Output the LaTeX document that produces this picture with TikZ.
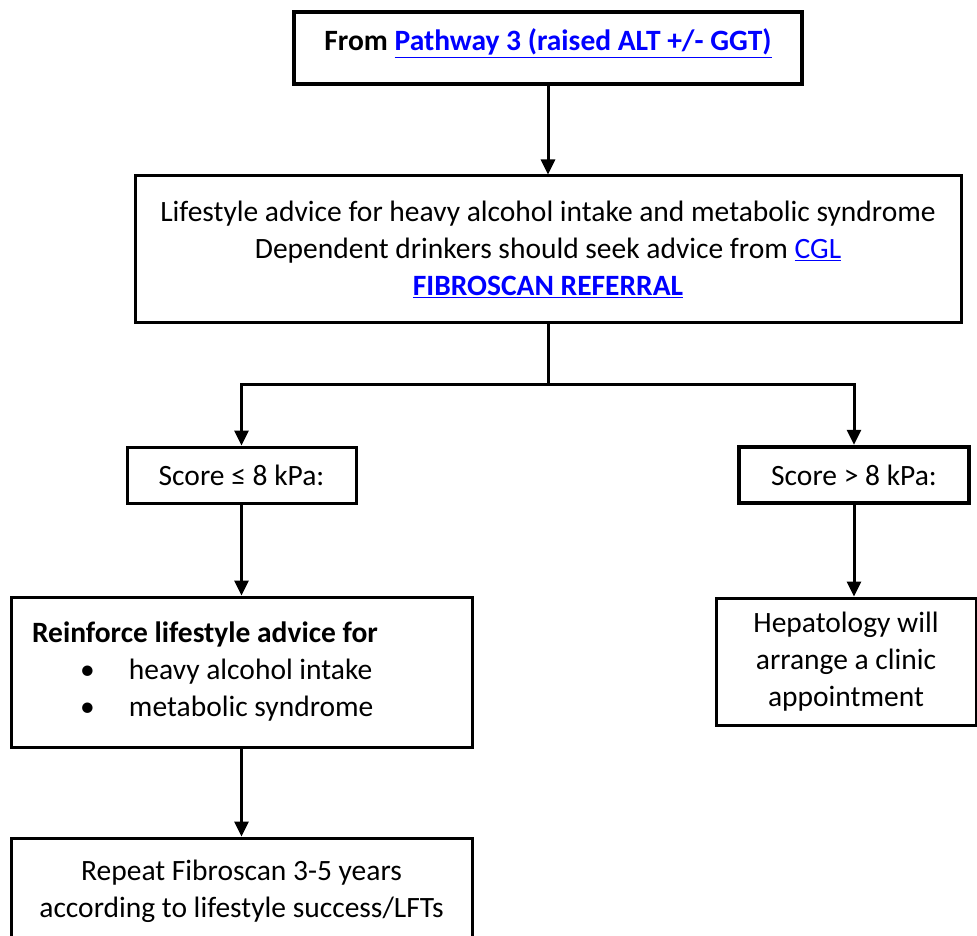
\documentclass[tikz,border=0pt]{standalone}
\usepackage{fontspec}
\setmainfont{Carlito}
\usetikzlibrary{shapes,arrows.meta,positioning}
\definecolor{linkblue}{RGB}{0,0,255}
\tikzstyle{block} = [rectangle, draw, line width=3pt, text centered, inner sep=0pt,
    font=\fontsize{29.5}{37}\selectfont]
\tikzstyle{line} = [draw, line width=3pt, -{Triangle[length=15pt,width=14pt]}]
\newcommand{\weblink}[1]{\textcolor{linkblue}{\underline{#1}}}

\begin{document}
\begin{tikzpicture}[x=1pt, y=1pt, node distance=201pt]
        \useasboundingbox (0,0) rectangle (977,-936);
        % Place nodes
        \node [block, line width=3.5pt, minimum width=508pt, minimum height=72pt, text depth=16pt,
            font=\bfseries\fontsize{29.5}{37}\selectfont] (origin) at (548,-48)
            {From \weblink{Pathway 3 (raised ALT +/- GGT)}};
        \node [block, below of=origin, minimum width=826pt, minimum height=146pt, align=center] (advice)
            {Lifestyle advice for heavy alcohol intake and metabolic syndrome\\
             Dependent drinkers should seek advice from \weblink{CGL}\\
             \weblink{\textbf{FIBROSCAN REFERRAL}}};
        \coordinate [below of=advice, node distance=135pt] (split);
        \node [block, minimum width=229pt, minimum height=56pt] (lowscore) at (241.5,-475) {Score ≤ 8 kPa:};
        \node [block, line width=4.5pt, minimum width=230pt, minimum height=56pt] (highscore) at (854,-475) {Score > 8 kPa:};
        \node [block, below of=lowscore, node distance=197pt, text width=419pt, inner xsep=21pt,
            minimum height=150pt, align=flush left] (reinforce)
            {\textbf{Reinforce lifestyle advice for}\\
             \hspace*{48pt}\makebox[49pt][l]{\textbullet}heavy alcohol intake\\
             \hspace*{48pt}\makebox[49pt][l]{\textbullet}metabolic syndrome};
        \node [block, below of=reinforce, node distance=219.5pt, minimum width=461pt, minimum height=107pt,
            align=center] (repeat)
            {Repeat Fibroscan 3-5 years\\according to lifestyle success/LFTs};
        \node [block, minimum width=260pt, minimum height=127pt, align=center] (clinic) at (846,-661.5)
            {Hepatology will\\arrange a clinic\\appointment};
        % Draw edges
        \path [line] (origin) -- (advice);
        \draw [line width=3pt] (advice) -- (split);
        \path [line] (split) -| (lowscore);
        \path [line] (split) -| (highscore);
        \path [line] (lowscore) -- (reinforce);
        \path [line] (reinforce) -- (repeat);
        \path [line] (highscore) -- (highscore |- clinic.north);
\end{tikzpicture}
\end{document}
